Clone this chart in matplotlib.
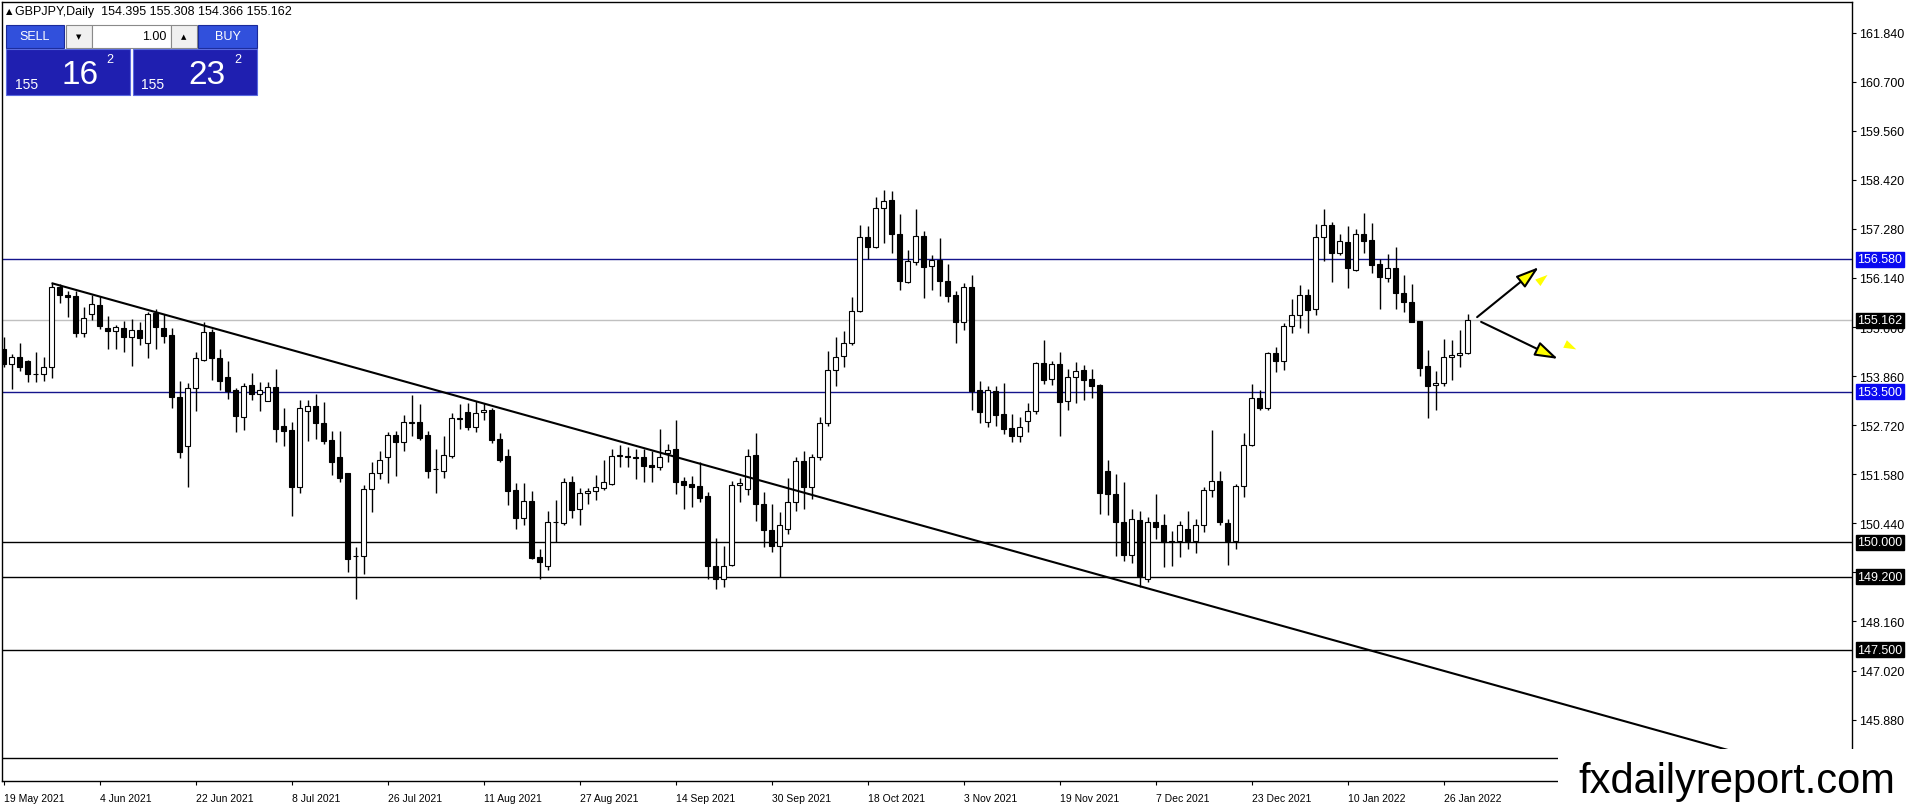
import numpy as np
import pandas as pd
import matplotlib
matplotlib.use("Agg")
import matplotlib.pyplot as plt
from matplotlib.patches import Rectangle

plt.rcParams['font.family'] = ['Liberation Sans', 'DejaVu Sans']

# GBPJPY daily candles, 19 May 2021 .. 31 Jan 2022
opens = [154.49, 154.14, 154.30, 154.20, 153.92, 153.91, 154.06, 155.94, 155.75, 155.71,
         154.85, 155.30, 155.51, 154.97, 154.90, 154.97, 154.76, 154.94, 154.62, 155.33,
         154.98, 154.81, 153.37, 152.24, 153.58, 154.24, 154.88, 154.27, 153.85, 153.54,
         152.92, 153.65, 153.44, 153.29, 153.60, 152.69, 152.61, 151.29, 153.04, 153.16,
         152.77, 152.38, 151.97, 151.60, 149.69, 149.67, 151.24, 151.62, 151.97, 152.49,
         152.32, 152.78, 152.80, 152.49, 151.70, 151.66, 152.01, 152.87, 153.02, 152.67,
         153.02, 153.07, 152.40, 152.00, 151.21, 150.56, 150.95, 149.65, 149.44, 150.46,
         150.45, 151.39, 150.77, 151.14, 151.18, 151.26, 151.35, 152.01, 151.99, 151.97,
         151.97, 151.79, 151.74, 152.07, 152.17, 151.42, 151.35, 151.30, 151.08, 149.44,
         149.15, 149.48, 151.32, 151.24, 152.03, 150.90, 150.28, 149.91, 150.32, 150.93,
         151.88, 151.28, 151.97, 152.76, 154.00, 154.32, 154.63, 155.38, 157.08, 156.87,
         157.76, 157.95, 157.16, 156.04, 156.50, 157.11, 156.41, 156.56, 156.06, 155.74,
         155.12, 155.94, 153.54, 152.79, 153.52, 152.98, 152.65, 152.48, 152.82, 153.06,
         154.16, 153.79, 154.13, 153.29, 153.85, 154.00, 153.79, 153.65, 151.66, 151.12,
         150.48, 149.71, 150.52, 149.15, 150.46, 150.39, 150.04, 150.04, 150.32, 150.02,
         150.39, 151.21, 151.43, 150.44, 150.02, 151.30, 152.27, 153.34, 153.12, 154.40,
         154.22, 155.02, 155.29, 155.75, 155.42, 157.10, 157.37, 156.71, 156.98, 156.33,
         157.16, 157.02, 156.46, 156.15, 156.37, 155.78, 155.57, 155.13, 154.09, 153.65,
         153.70, 154.30, 154.35, 154.395]
highs = [154.76, 154.37, 154.64, 154.23, 154.43, 154.30, 156.02, 156.00, 155.84, 155.84,
         155.46, 155.75, 155.73, 155.26, 155.05, 155.15, 155.19, 155.12, 155.36, 155.42,
         155.30, 154.98, 153.74, 153.69, 154.43, 155.11, 154.95, 154.49, 154.20, 153.58,
         153.71, 153.94, 153.73, 153.73, 154.02, 153.13, 152.79, 153.30, 153.31, 153.44,
         153.27, 152.59, 152.59, 151.62, 149.88, 151.32, 151.86, 152.13, 152.57, 152.59,
         152.96, 153.41, 153.21, 152.59, 152.17, 152.48, 153.00, 153.21, 153.23, 153.29,
         153.24, 153.13, 152.54, 152.17, 151.37, 151.38, 151.18, 149.84, 150.72, 150.99,
         151.49, 151.55, 151.25, 151.26, 151.56, 151.92, 152.17, 152.26, 152.22, 152.17,
         152.17, 152.13, 152.62, 152.28, 152.83, 151.52, 151.55, 151.86, 151.17, 150.09,
         149.91, 151.43, 151.49, 152.17, 152.54, 151.16, 150.90, 150.70, 151.49, 151.99,
         152.11, 152.05, 152.90, 154.45, 154.78, 154.90, 155.69, 157.37, 157.34, 158.01,
         158.19, 158.15, 157.63, 156.79, 157.74, 157.22, 156.67, 157.06, 156.46, 155.84,
         156.02, 156.21, 153.75, 153.64, 153.64, 153.69, 152.98, 152.90, 153.23, 154.18,
         154.71, 154.22, 154.41, 154.03, 154.18, 154.12, 154.02, 153.68, 151.90, 151.59,
         151.41, 150.77, 150.72, 150.58, 151.11, 150.66, 150.27, 150.50, 150.72, 150.54,
         151.29, 152.61, 151.66, 150.54, 151.35, 152.53, 153.68, 153.54, 154.43, 154.53,
         155.09, 155.64, 155.98, 155.88, 157.39, 157.74, 157.43, 157.16, 157.34, 157.28,
         157.66, 157.42, 156.58, 156.70, 156.87, 156.21, 156.01, 155.15, 154.47, 153.99,
         154.72, 154.70, 154.93, 155.308]
lows = [154.06, 153.57, 153.99, 153.72, 153.73, 153.74, 153.81, 155.55, 155.24, 154.76,
        154.76, 155.17, 154.96, 154.50, 154.49, 154.43, 154.09, 154.58, 154.27, 154.50,
        154.62, 153.11, 151.95, 151.28, 153.06, 154.20, 153.77, 153.54, 153.33, 152.57,
        152.61, 153.31, 153.04, 153.29, 152.32, 152.24, 150.60, 151.14, 152.36, 152.40,
        152.28, 151.56, 151.39, 149.30, 148.68, 149.26, 150.70, 151.47, 151.37, 151.53,
        152.13, 152.48, 152.38, 151.49, 151.14, 151.49, 151.96, 152.63, 152.61, 152.57,
        152.83, 152.30, 151.86, 150.87, 150.31, 150.41, 149.61, 149.15, 149.36, 150.00,
        150.39, 150.56, 150.41, 150.89, 150.99, 151.22, 151.32, 151.76, 151.76, 151.47,
        151.41, 151.39, 151.68, 151.87, 151.12, 150.77, 150.83, 150.93, 149.15, 148.91,
        148.97, 149.44, 150.94, 151.10, 150.50, 149.88, 149.77, 149.19, 150.19, 150.72,
        150.77, 151.01, 151.92, 152.71, 153.64, 154.06, 154.59, 155.36, 156.58, 156.83,
        156.95, 156.73, 155.87, 156.02, 156.43, 155.67, 155.87, 155.73, 155.57, 154.62,
        154.92, 153.08, 152.76, 152.67, 152.69, 152.51, 152.34, 152.34, 152.57, 152.99,
        153.68, 153.66, 152.48, 153.07, 153.24, 153.31, 153.35, 150.66, 150.64, 149.69,
        149.57, 149.53, 148.97, 149.07, 150.08, 149.42, 149.46, 149.65, 149.84, 149.74,
        150.23, 151.06, 150.39, 149.48, 149.84, 151.06, 152.24, 153.07, 153.07, 153.96,
        154.01, 154.86, 154.97, 154.85, 155.28, 156.54, 156.05, 156.67, 155.91, 156.29,
        156.73, 156.26, 155.43, 156.04, 155.43, 155.36, 155.11, 153.87, 152.88, 153.08,
        153.62, 153.78, 154.06, 154.366]
closes = [154.14, 154.30, 154.08, 153.91, 153.90, 154.06, 155.92, 155.75, 155.69, 154.85,
          155.20, 155.53, 155.03, 154.90, 154.99, 154.76, 154.94, 154.74, 155.30, 154.99,
          154.80, 153.37, 152.09, 153.58, 154.27, 154.88, 154.27, 153.75, 153.52, 152.94,
          153.64, 153.44, 153.54, 153.60, 152.63, 152.59, 151.29, 153.11, 153.16, 152.76,
          152.36, 151.86, 151.49, 149.61, 149.68, 151.24, 151.62, 151.91, 152.49, 152.32,
          152.79, 152.79, 152.43, 151.66, 151.70, 152.03, 152.88, 152.88, 152.67, 153.00,
          153.07, 152.38, 151.91, 151.20, 150.56, 150.95, 149.64, 149.55, 150.46, 150.47,
          151.39, 150.76, 151.14, 151.18, 151.28, 151.39, 152.01, 152.01, 151.99, 151.96,
          151.78, 151.74, 151.97, 152.15, 151.41, 151.34, 151.29, 151.04, 149.44, 149.15,
          149.46, 151.33, 151.37, 152.01, 150.90, 150.29, 149.91, 150.41, 150.93, 151.88,
          151.28, 151.97, 152.76, 154.00, 154.31, 154.64, 155.38, 157.08, 156.87, 157.76,
          157.93, 157.15, 156.06, 156.53, 157.11, 156.40, 156.56, 156.06, 155.73, 155.12,
          155.94, 153.52, 153.02, 153.54, 152.96, 152.63, 152.48, 152.67, 153.06, 154.16,
          153.78, 154.13, 153.25, 153.85, 153.97, 153.78, 153.64, 151.14, 151.11, 150.48,
          149.71, 150.54, 149.22, 150.46, 150.36, 150.00, 150.00, 150.39, 150.04, 150.39,
          151.21, 151.43, 150.48, 150.02, 151.30, 152.27, 153.34, 153.11, 154.40, 154.22,
          155.02, 155.29, 155.75, 155.40, 157.10, 157.36, 156.71, 156.99, 156.36, 157.16,
          157.01, 156.45, 156.17, 156.36, 155.78, 155.57, 155.12, 154.04, 153.64, 153.70,
          154.30, 154.35, 154.395, 155.162]

dates = pd.bdate_range('2021-05-19', periods=len(opens))

# horizontal levels drawn on the chart
blue_levels = [156.580, 153.500]
black_levels = [150.000, 149.200, 147.500, 145.000]
bid = 155.162

# trend line anchors (candle index, price)
trend_idx = [6, 143]
trend_px = [156.02, 148.93]

# arrows: (start index, start price, tip index, tip price)
arrows = [(184.2, 155.23, 191.9, 156.39),
          (184.7, 155.12, 194.3, 154.26)]
# small yellow marks next to the arrow heads (index, price)
ghosts = [(193.0, 156.21), (196.6, 154.48)]

yticks = [145.88, 147.02, 148.16, 149.30, 150.44, 151.58, 152.72, 153.86,
          155.00, 156.14, 157.28, 158.42, 159.56, 160.70, 161.84]

fig = plt.figure(figsize=(19.16, 8.12), dpi=100)
ax = fig.add_axes([2 / 1916, 30 / 812, 1850 / 1916, 779 / 812])

o = np.array(opens)
h = np.array(highs)
l = np.array(lows)
c = np.array(closes)
idx = np.arange(len(o))
up = c >= o

# candles: wick then body
ax.vlines(idx, l, h, color='black', linewidth=1.0, zorder=3)
body_lo = np.minimum(o, c)
body_h = np.maximum(np.abs(c - o), 0.012)
ax.bar(idx, body_h, bottom=body_lo, width=0.62,
       color=np.where(up, 'white', 'black'), edgecolor='black',
       linewidth=0.8, zorder=4)

# levels
for lv in blue_levels:
    ax.axhline(lv, color='#14148c', linewidth=1.0, zorder=2)
for lv in black_levels:
    ax.axhline(lv, color='black', linewidth=1.0, zorder=2)
ax.axhline(bid, color='#c0c0c0', linewidth=1.0, zorder=1)

# trend line as a ray
slope = (trend_px[1] - trend_px[0]) / (trend_idx[1] - trend_idx[0])
x_end = 260
ax.plot([trend_idx[0], x_end],
        [trend_px[0], trend_px[0] + slope * (x_end - trend_idx[0])],
        color='black', linewidth=1.5, zorder=5, solid_capstyle='butt')

ax.set_xlim(-0.19, 231.06)
ax.set_ylim(144.455, 162.55)

# arrows
for (x0, y0, x1, y1), (gx, gy) in zip(arrows, ghosts):
    ax.annotate('', xy=(x1, y1), xytext=(x0, y0),
                arrowprops=dict(arrowstyle='-|>,head_length=1.4,head_width=0.45',
                                fc='#ffff00', ec='black', lw=1.5,
                                shrinkA=0, shrinkB=0, mutation_scale=10),
                zorder=6)
    # direction of the arrow in pixels, to orient the small yellow mark
    p0 = ax.transData.transform((x0, y0))
    p1 = ax.transData.transform((x1, y1))
    d = (p1 - p0) / np.hypot(*(p1 - p0))
    ax.annotate('', xy=(gx, gy), xytext=(-d[0] * 9, -d[1] * 9),
                textcoords='offset pixels',
                arrowprops=dict(arrowstyle='-|>,head_length=0.9,head_width=0.3',
                                fc='#ffff00', ec='#ffff00', lw=0,
                                shrinkA=0, shrinkB=0, mutation_scale=10),
                zorder=6)

# right price scale
ax.yaxis.tick_right()
ax.set_yticks(yticks)
ax.set_yticklabels([f'{v:.3f}' for v in yticks])
ax.tick_params(axis='y', direction='out', length=3, width=0.8, pad=2,
               labelsize=9, colors='black')

# date scale
date_pos = idx[::12]
ax.set_xticks(date_pos)
ax.set_xticklabels([f'{d.day} {d.strftime("%b %Y")}' for d in dates[::12]],
                   ha='left')
ax.tick_params(axis='x', direction='out', length=3, width=0.8, pad=6,
               labelsize=7.5)

for sp in ax.spines.values():
    sp.set_color('black')
    sp.set_linewidth(1.0)

# level labels on the price scale
def level_label(price, face):
    ax.annotate(f'{price:.3f}', xy=(1, price), xycoords=('axes fraction', 'data'),
                xytext=(5, 0), textcoords='offset pixels', ha='left', va='center',
                fontsize=9, color='white', annotation_clip=False, zorder=7,
                bbox=dict(boxstyle='square,pad=0.12', fc=face, ec=face))

for lv in blue_levels:
    level_label(lv, '#0a0af0')
for lv in black_levels:
    level_label(lv, 'black')
level_label(bid, 'black')

# overlay: header, trade panel, watermark (pixel coordinates)
ov = fig.add_axes([0, 0, 1, 1], zorder=10)
ov.set_xlim(0, 1916)
ov.set_ylim(812, 0)
ov.axis('off')
ov.patch.set_alpha(0)

ov.text(6, 12, '\u25b2', fontsize=6, va='center', ha='left', family='DejaVu Sans')
ov.text(15, 12, 'GBPJPY,Daily  154.395 155.308 154.366 155.162',
        fontsize=9, va='center', ha='left')

btn_blue = '#3150dc'
ov.add_patch(Rectangle((6, 26), 58, 23, fc=btn_blue, ec='#1a2a9a', lw=0.8))
ov.text(35, 37.5, 'SELL', color='white', fontsize=9, ha='center', va='center')
ov.add_patch(Rectangle((66, 26), 26, 23, fc='#f0f0f0', ec='#8a8a8a', lw=0.8))
ov.text(79, 37.5, '\u25bc', fontsize=5, ha='center', va='center', family='DejaVu Sans')
ov.add_patch(Rectangle((92, 26), 79, 23, fc='white', ec='#8a8a8a', lw=0.8))
ov.text(166, 37.5, '1.00', fontsize=9, ha='right', va='center')
ov.add_patch(Rectangle((171, 26), 26, 23, fc='#f0f0f0', ec='#8a8a8a', lw=0.8))
ov.text(184, 37.5, '\u25b2', fontsize=5, ha='center', va='center', family='DejaVu Sans')
ov.add_patch(Rectangle((198, 26), 59, 23, fc=btn_blue, ec='#1a2a9a', lw=0.8))
ov.text(227.5, 37.5, 'BUY', color='white', fontsize=9, ha='center', va='center')

price_blue = '#1f1fb0'
for x0, small, big, sup, xs, xb, xp in [(6, '155', '16', '2', 15, 62, 106),
                                         (133, '155', '23', '2', 141, 188, 234)]:
    ov.add_patch(Rectangle((x0, 50), 124, 46, fc=price_blue, ec='#5a6ae0', lw=0.8))
    ov.text(xs, 85, small, color='white', fontsize=10, ha='left', va='center')
    ov.text(xb, 76, big, color='white', fontsize=24, ha='left', va='center')
    ov.text(xp, 60, sup, color='white', fontsize=9, ha='left', va='center')

ov.add_patch(Rectangle((1558, 750), 358, 62, fc='white', ec='none'))
ov.text(1737, 782, 'fxdailyreport.com', fontsize=30, ha='center', va='center',
        color='black')

fig.savefig('out.png', dpi=100, facecolor='white')
